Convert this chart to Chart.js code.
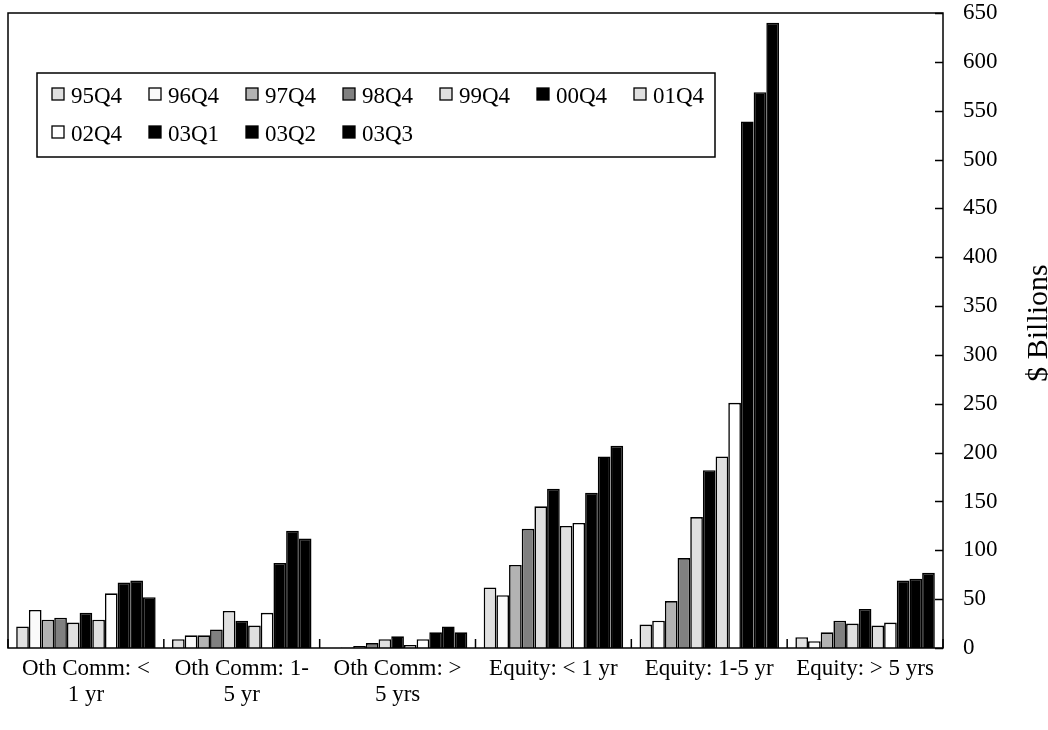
<!DOCTYPE html>
<html>
<head>
<meta charset="utf-8">
<script src="https://cdn.jsdelivr.net/npm/chart.js@4/dist/chart.umd.min.js"></script>
<style>
  html, body { margin: 0; padding: 0; background: #fff; }
  #wrap { width: 1048px; height: 730px; position: relative; }
</style>
</head>
<body>
<div id="wrap"><canvas id="derivChart" width="1048" height="730"></canvas></div>
<script>
// categories (x axis)
const categories = [
  ["Oth Comm: <", "1 yr"],
  ["Oth Comm: 1-", "5 yr"],
  ["Oth Comm: >", "5 yrs"],
  ["Equity: < 1 yr"],
  ["Equity: 1-5 yr"],
  ["Equity: > 5 yrs"]
];

// series labels
const seriesNames = ["95Q4", "96Q4", "97Q4", "98Q4", "99Q4", "00Q4", "01Q4", "02Q4", "03Q1", "03Q2", "03Q3"];

// values, $ billions, one array per period
const v95Q4 = [22, 9, 0, 62, 24, 11];
const v96Q4 = [39, 13, 0.5, 54, 28, 7];
const v97Q4 = [29, 13, 2, 85, 48, 16];
const v98Q4 = [31, 19, 5, 122, 92, 28];
const v99Q4 = [26, 38, 9, 145, 134, 25];
const v00Q4 = [36, 28, 12, 163, 182, 40];
const v01Q4 = [29, 23, 3, 125, 196, 23];
const v02Q4 = [56, 36, 9, 128, 251, 26];
const v03Q1 = [67, 87, 16, 159, 539, 69];
const v03Q2 = [69, 120, 22, 196, 569, 71];
const v03Q3 = [52, 112, 16, 207, 640, 77];

// y ticks
const yMin = 0;
const yMax = 650;
const yStep = 50;

const seriesValues = [v95Q4, v96Q4, v97Q4, v98Q4, v99Q4, v00Q4, v01Q4, v02Q4, v03Q1, v03Q2, v03Q3];
const seriesColors = ["#e0e0e0", "#fafafa", "#b3b3b3", "#808080", "#e0e0e0", "#000000",
                      "#e0e0e0", "#ffffff", "#000000", "#000000", "#000000"];

const FONT = "'Liberation Serif', 'Times New Roman', serif";

const datasets = seriesNames.map((name, i) => ({
  label: name,
  data: seriesValues[i],
  backgroundColor: seriesColors[i],
  borderColor: "#000",
  borderWidth: 1.6,
  categoryPercentage: 0.895,
  barPercentage: 1.0
}));

// frame, inner ticks, legend box and rotated axis title
const framePlugin = {
  id: "frame",
  beforeDatasetsDraw(chart) {
    const { ctx, chartArea: a, scales } = chart;
    ctx.save();
    ctx.strokeStyle = "#000";
    ctx.lineWidth = 1.5;
    ctx.beginPath();
    for (let v = yMin; v <= yMax; v += yStep) {
      const y = Math.round(scales.y.getPixelForValue(v)) + 0.5;
      ctx.moveTo(a.right - 8, y);
      ctx.lineTo(a.right, y);
    }
    const xs = scales.x;
    for (let i = 0; i <= categories.length; i++) {
      const x = xs.getPixelForValue(i - 0.5);
      ctx.moveTo(x, a.bottom - 9);
      ctx.lineTo(x, a.bottom);
    }
    ctx.stroke();
    ctx.restore();
  },
  afterDatasetsDraw(chart) {
    const { ctx, chartArea: a } = chart;
    ctx.save();
    ctx.strokeStyle = "#000";
    ctx.lineWidth = 1.5;
    ctx.strokeRect(a.left, a.top, a.right - a.left, a.bottom - a.top);
    ctx.restore();
  },
  afterDraw(chart) {
    const { ctx } = chart;
    ctx.save();
    // legend
    ctx.fillStyle = "#fff";
    ctx.fillRect(37, 73, 678, 84);
    ctx.strokeStyle = "#000";
    ctx.lineWidth = 1.5;
    ctx.strokeRect(37, 73, 678, 84);
    ctx.font = "23px " + FONT;
    ctx.textBaseline = "alphabetic";
    chart.data.datasets.forEach((ds, i) => {
      const col = i % 7;
      const row = Math.floor(i / 7);
      const bx = 52 + col * 97;
      const by = row === 0 ? 88 : 126;
      ctx.fillStyle = ds.backgroundColor;
      ctx.fillRect(bx, by, 12, 12);
      ctx.lineWidth = 1.3;
      ctx.strokeRect(bx, by, 12, 12);
      ctx.fillStyle = "#000";
      ctx.fillText(ds.label, bx + 19, row === 0 ? 103 : 141);
    });
    // axis title, reads bottom to top at the right edge
    ctx.translate(1047, 323);
    ctx.rotate(-Math.PI / 2);
    ctx.font = "30px " + FONT;
    ctx.textAlign = "center";
    ctx.textBaseline = "alphabetic";
    ctx.fillStyle = "#000";
    ctx.fillText("$ Billions", 0, 0);
    ctx.restore();
  }
};

const ctx = document.getElementById("derivChart").getContext("2d");
new Chart(ctx, {
  type: "bar",
  data: { labels: categories, datasets: datasets },
  options: {
    responsive: false,
    animation: false,
    layout: { padding: { left: 8, top: 13, right: 0, bottom: 0 } },
    plugins: {
      legend: { display: false },
      tooltip: { enabled: false }
    },
    scales: {
      x: {
        grid: { display: false, drawTicks: false },
        border: { display: false },
        ticks: {
          color: "#000",
          font: { family: FONT, size: 23, lineHeight: 1.17 },
          padding: 7,
          maxRotation: 0,
          autoSkip: false
        },
        afterFit(scale) {
          scale.height = 82;
          scale.paddingLeft = 0;
          scale.paddingRight = 0;
        }
      },
      y: {
        position: "right",
        min: yMin,
        max: yMax,
        grid: { display: false, drawTicks: false },
        border: { display: false },
        ticks: {
          stepSize: yStep,
          color: "#000",
          font: { family: FONT, size: 23, lineHeight: 1 },
          padding: 20
        },
        afterFit(scale) {
          scale.width = 105;
          scale.paddingTop = 0;
          scale.paddingBottom = 0;
        }
      }
    }
  },
  plugins: [framePlugin]
});
</script>
</body>
</html>
